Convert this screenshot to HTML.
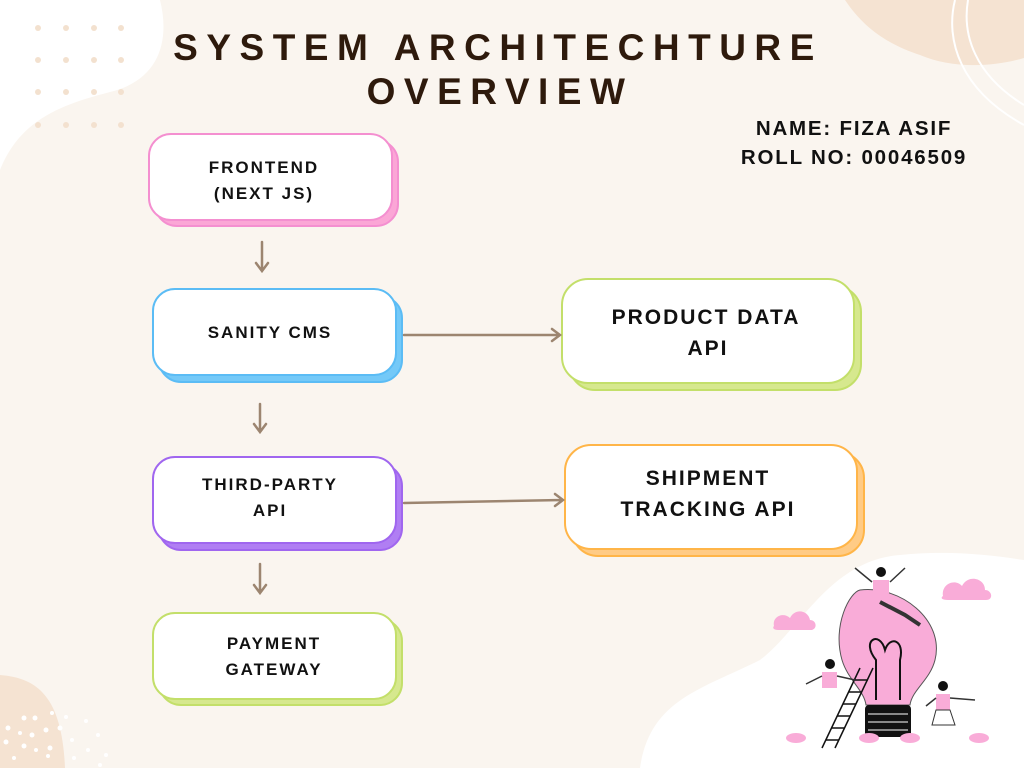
<!DOCTYPE html>
<html><head><meta charset="utf-8"><style>
html,body{margin:0;padding:0;background:#faf5ef;}
svg{display:block}
text{font-family:"Liberation Sans",sans-serif;font-weight:bold;}
</style></head><body>
<svg width="1024" height="768" viewBox="0 0 1024 768" xmlns="http://www.w3.org/2000/svg">
<rect width="1024" height="768" fill="#faf5ef"/>
<!-- blobs -->
<path d="M0 0 H160 C170 40 160 80 110 92 C60 105 20 120 0 170 Z" fill="#ffffff"/>
<path d="M845 0 H1024 V58 C990 68 950 68 920 55 C890 45 865 30 845 0 Z" fill="#f5e3d2"/>
<path d="M955 0 C945 40 960 90 1024 125" fill="none" stroke="#fff" stroke-width="2"/>
<path d="M968 0 C962 35 975 75 1024 105" fill="none" stroke="#fff" stroke-width="2"/>
<path d="M0 675 C40 678 62 700 65 768 H0 Z" fill="#f5e3d2"/>
<path d="M640 768 C650 700 700 690 760 660 C800 630 830 560 900 555 C950 550 990 555 1024 560 V768 Z" fill="#ffffff"/>
<g fill="#f3e1cf">
<circle cx="38" cy="28" r="3"/><circle cx="66" cy="28" r="3"/><circle cx="94" cy="28" r="3"/><circle cx="121" cy="28" r="3"/>
<circle cx="38" cy="60" r="3"/><circle cx="66" cy="60" r="3"/><circle cx="94" cy="60" r="3"/><circle cx="121" cy="60" r="3"/>
<circle cx="38" cy="92" r="3"/><circle cx="66" cy="92" r="3"/><circle cx="94" cy="92" r="3"/><circle cx="121" cy="92" r="3"/>
<circle cx="38" cy="125" r="3"/><circle cx="66" cy="125" r="3"/><circle cx="94" cy="125" r="3"/><circle cx="121" cy="125" r="3"/>
</g>
<g fill="#fff">
<circle cx="24" cy="718" r="2.5"/><circle cx="35" cy="718" r="2.5"/><circle cx="52" cy="713" r="2"/><circle cx="66" cy="717" r="2"/>
<circle cx="8" cy="728" r="2.5"/><circle cx="20" cy="733" r="2"/><circle cx="32" cy="735" r="2.5"/><circle cx="46" cy="730" r="2.5"/><circle cx="60" cy="728" r="2.5"/><circle cx="86" cy="721" r="2"/>
<circle cx="6" cy="742" r="2.5"/><circle cx="24" cy="746" r="2.5"/><circle cx="36" cy="750" r="2"/><circle cx="50" cy="748" r="2.5"/><circle cx="72" cy="740" r="2"/><circle cx="98" cy="735" r="2"/>
<circle cx="14" cy="758" r="2"/><circle cx="48" cy="756" r="2"/><circle cx="74" cy="758" r="2"/><circle cx="88" cy="750" r="2"/><circle cx="106" cy="755" r="2"/><circle cx="100" cy="765" r="2"/>
</g>
<!-- title -->
<text x="498" y="60" font-size="37" fill="#2e1a0c" text-anchor="middle" letter-spacing="8.5">SYSTEM ARCHITECHTURE</text>
<text x="500" y="104" font-size="37" fill="#2e1a0c" text-anchor="middle" letter-spacing="8.5">OVERVIEW</text>
<text x="854" y="135" font-size="20.5" fill="#111" text-anchor="middle" letter-spacing="1.8">NAME: FIZA ASIF</text>
<text x="854" y="164" font-size="20.5" fill="#111" text-anchor="middle" letter-spacing="1.8">ROLL NO: 00046509</text>
<!-- boxes -->
<g stroke-width="2">
<rect x="155" y="140" width="243" height="86" rx="22" fill="#fba6d6" stroke="#f48fd0"/>
<rect x="149" y="134" width="243" height="86" rx="22" fill="#fff" stroke="#f48fd0"/>
<rect x="159" y="296" width="243" height="86" rx="22" fill="#74c9f8" stroke="#5bbcf5"/>
<rect x="153" y="289" width="243" height="86" rx="22" fill="#fff" stroke="#5bbcf5"/>
<rect x="159" y="464" width="243" height="86" rx="22" fill="#b07ef3" stroke="#a066ef"/>
<rect x="153" y="457" width="243" height="86" rx="22" fill="#fff" stroke="#a066ef"/>
<rect x="159" y="619" width="243" height="86" rx="22" fill="#d6e88e" stroke="#c3df6a"/>
<rect x="153" y="613" width="243" height="86" rx="22" fill="#fff" stroke="#c3df6a"/>
<rect x="569" y="286" width="292" height="104" rx="26" fill="#d6e88e" stroke="#c3df6a"/>
<rect x="562" y="279" width="292" height="104" rx="26" fill="#fff" stroke="#c3df6a"/>
<rect x="572" y="452" width="292" height="104" rx="26" fill="#ffcb85" stroke="#ffb548"/>
<rect x="565" y="445" width="292" height="104" rx="26" fill="#fff" stroke="#ffb548"/>
</g>
<g fill="#111" text-anchor="middle" letter-spacing="2">
<text x="264" y="173" font-size="17">FRONTEND</text>
<text x="264" y="199" font-size="17">(NEXT JS)</text>
<text x="270" y="338" font-size="17">SANITY CMS</text>
<text x="270" y="490" font-size="17">THIRD-PARTY</text>
<text x="270" y="516" font-size="17">API</text>
<text x="274" y="649" font-size="17">PAYMENT</text>
<text x="274" y="675" font-size="17">GATEWAY</text>
<text x="706" y="324" font-size="21">PRODUCT DATA</text>
<text x="708" y="355" font-size="21">API</text>
<text x="708" y="485" font-size="21">SHIPMENT</text>
<text x="708" y="516" font-size="21">TRACKING API</text>
</g>
<!-- arrows -->
<g stroke="#9c8570" stroke-width="2.5" fill="none" stroke-linecap="round">
<path d="M262 242 V270 M256 263 L262 271 L268 263"/>
<path d="M260 404 V431 M254 424 L260 432 L266 424"/>
<path d="M260 564 V592 M254 585 L260 593 L266 585"/>
<path d="M404 335 H559 M552 329 L560 335 L552 341"/>
<path d="M404 503 L562 500 M555 494 L563 500 L555 506"/>
</g>
<!-- illustration -->
<g>
<path d="M860 590 C900 585 945 620 935 660 C930 680 912 690 910 705 H866 C864 690 848 680 842 660 C832 625 850 592 860 590 Z" fill="#f9acd8" stroke="#555" stroke-width="1"/>
<rect x="865" y="705" width="46" height="32" rx="4" fill="#111"/>
<g stroke="#fff" stroke-width="1"><line x1="868" y1="714" x2="908" y2="714"/><line x1="868" y1="722" x2="908" y2="722"/><line x1="868" y1="730" x2="908" y2="730"/></g>
<path d="M876 700 V660 C860 640 880 630 885 650 C890 635 905 640 900 660 V700" fill="none" stroke="#111" stroke-width="2"/>
<g stroke="#111" stroke-width="1.5"><line x1="822" y1="748" x2="860" y2="668"/><line x1="835" y1="748" x2="873" y2="668"/>
<line x1="826" y1="740" x2="839" y2="740"/><line x1="831" y1="728" x2="844" y2="728"/><line x1="837" y1="716" x2="850" y2="716"/><line x1="843" y1="704" x2="856" y2="704"/><line x1="849" y1="692" x2="862" y2="692"/><line x1="855" y1="680" x2="868" y2="680"/></g>
<circle cx="881" cy="572" r="5" fill="#111"/><rect x="873" y="580" width="16" height="22" fill="#f9acd8"/>
<path d="M872 582 L855 568 M890 582 L905 568" stroke="#333" stroke-width="1.5"/>
<path d="M880 602 L905 615 L920 625" stroke="#333" stroke-width="4" fill="none"/>
<circle cx="830" cy="664" r="5" fill="#111"/><rect x="822" y="672" width="15" height="16" fill="#f9acd8"/>
<path d="M837 676 L855 680 M822 676 L806 684" stroke="#333" stroke-width="1.5"/>
<circle cx="943" cy="686" r="5" fill="#111"/><rect x="936" y="694" width="14" height="16" fill="#f9acd8"/>
<path d="M950 698 L975 700 M936 698 L926 706" stroke="#333" stroke-width="1.5"/>
<path d="M936 710 L950 710 L955 725 L932 725 Z" fill="#fff" stroke="#333" stroke-width="1"/>
<g fill="#f9acd8">
<path d="M774 626 C772 616 784 612 790 618 C795 608 808 610 810 620 C816 620 818 628 812 630 H778 C774 630 772 628 774 626 Z"/>
<path d="M943 596 C941 584 955 578 962 586 C968 574 985 578 985 590 C992 590 994 600 986 600 H948 C942 600 940 598 943 596 Z"/>
<ellipse cx="796" cy="738" rx="10" ry="5"/><ellipse cx="869" cy="738" rx="10" ry="5"/><ellipse cx="910" cy="738" rx="10" ry="5"/><ellipse cx="979" cy="738" rx="10" ry="5"/>
</g>
</g>
</svg>
</body></html>
